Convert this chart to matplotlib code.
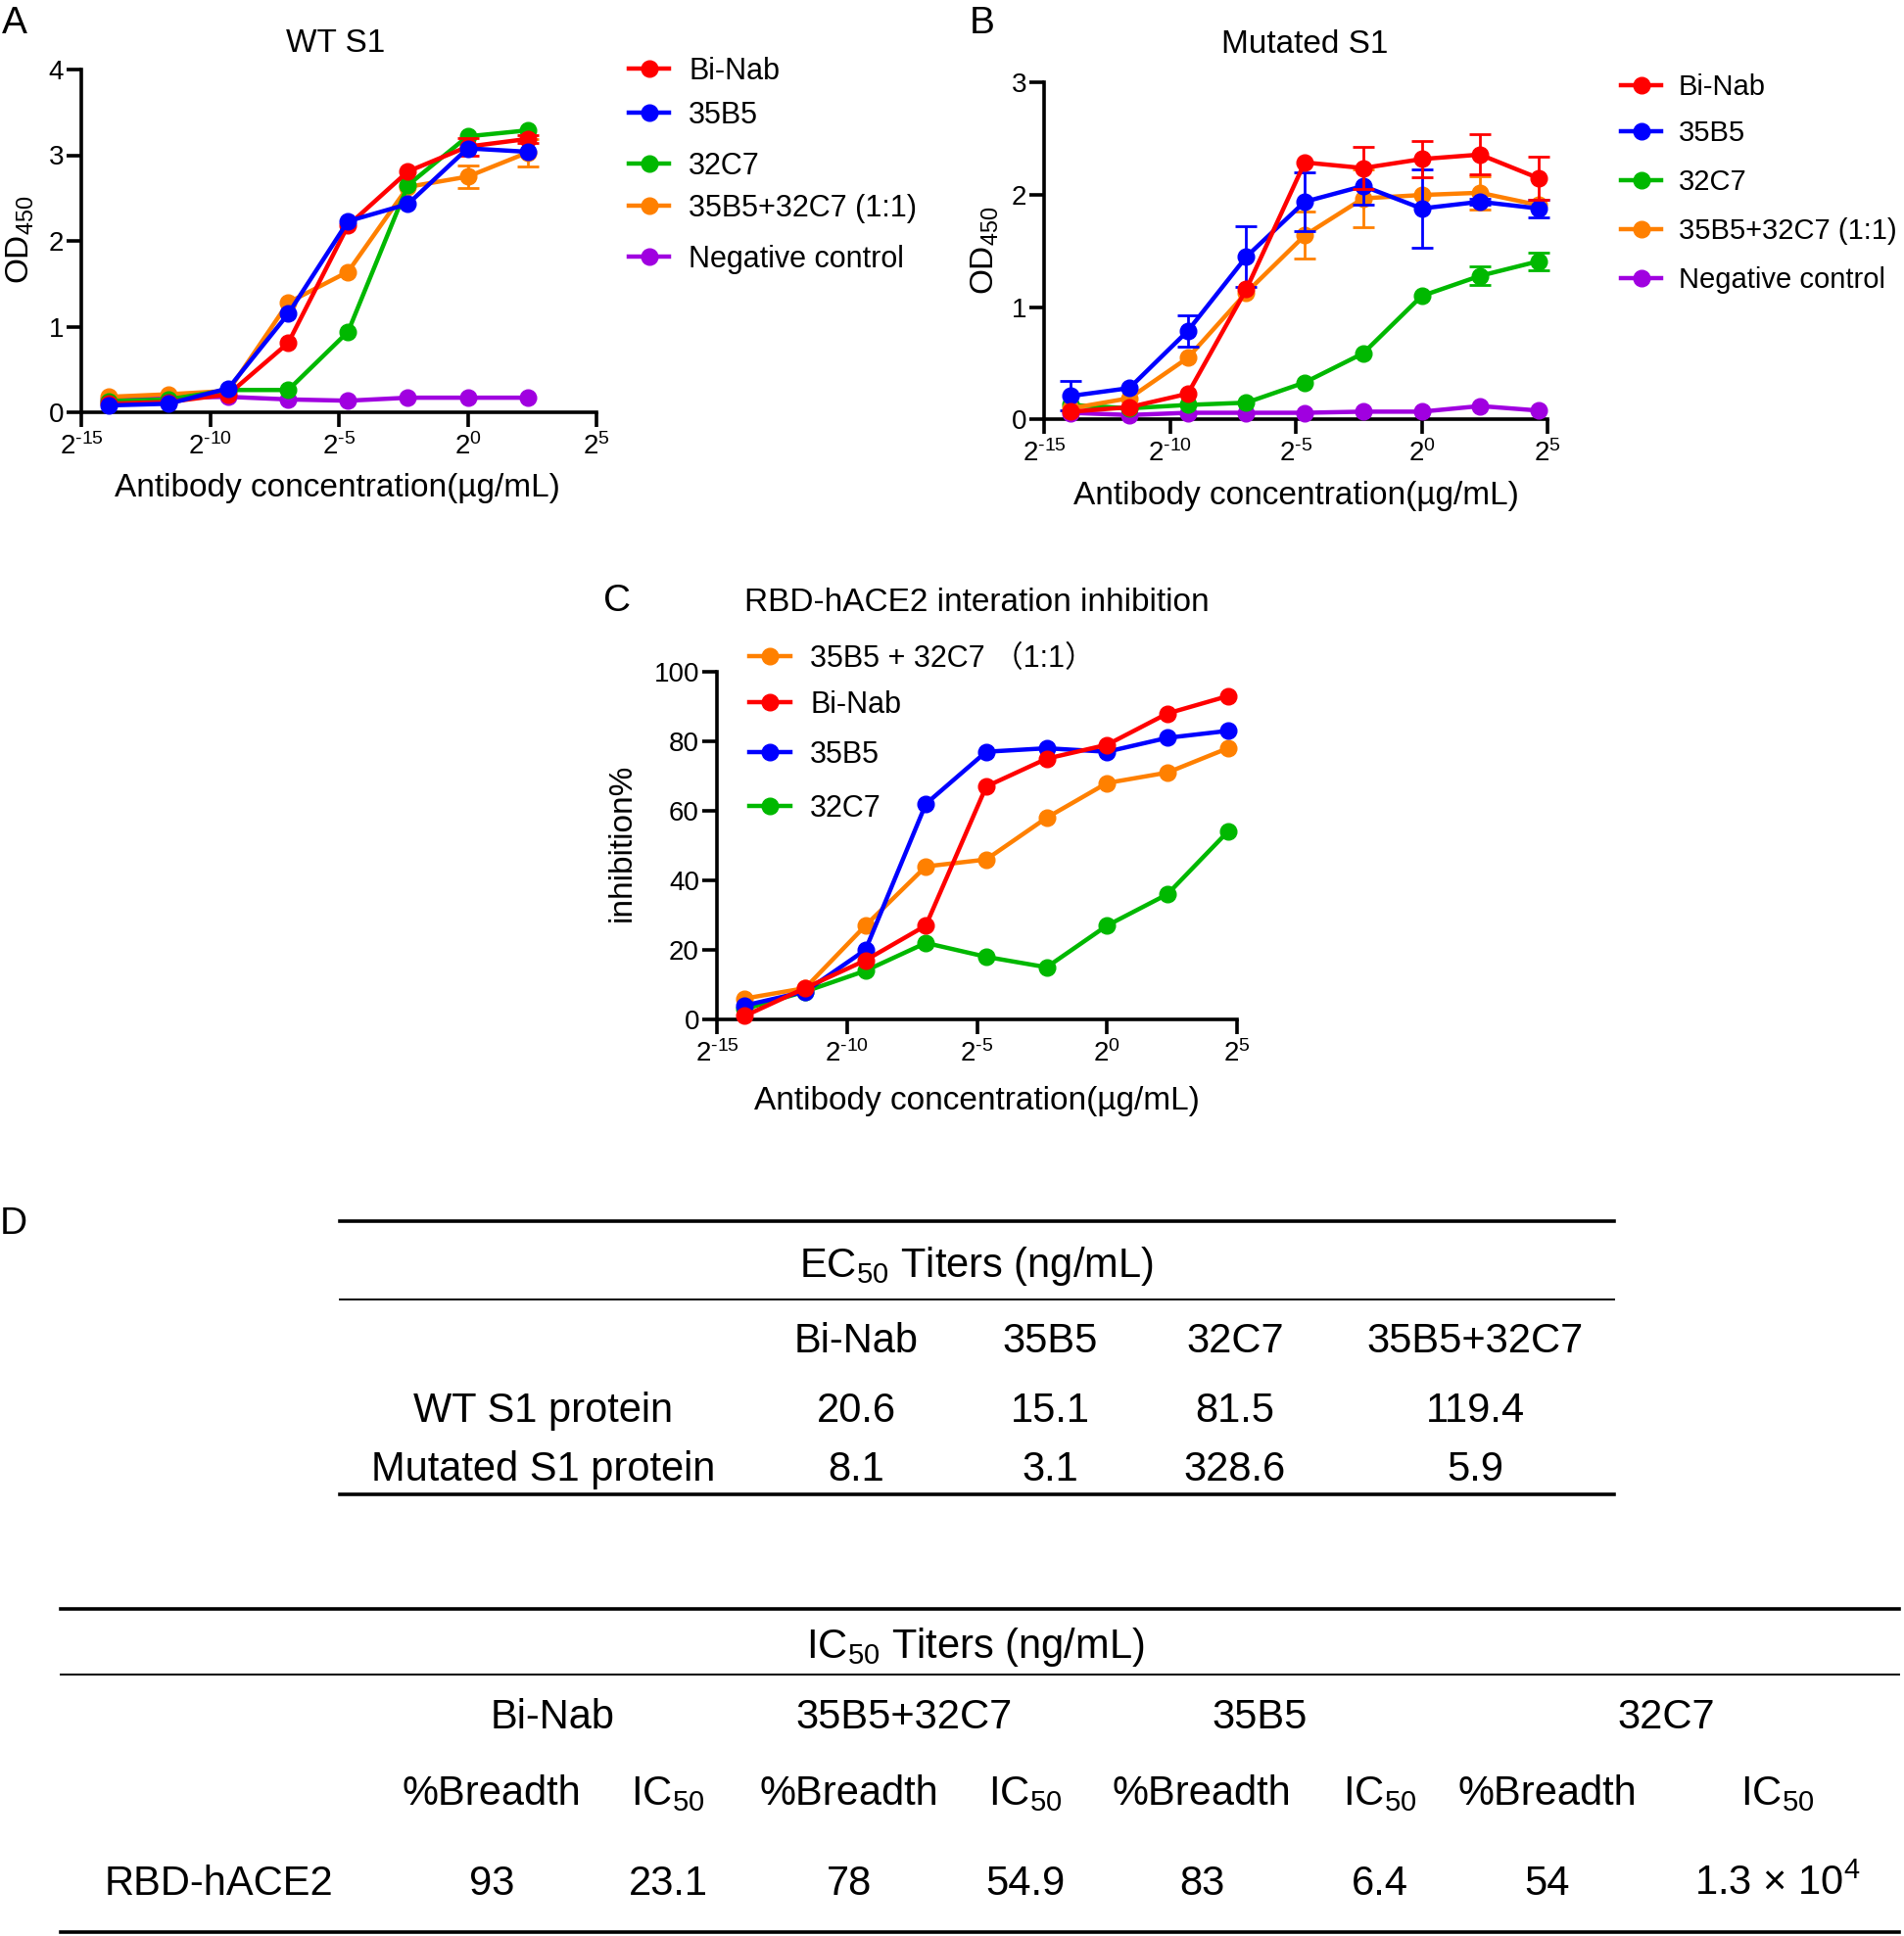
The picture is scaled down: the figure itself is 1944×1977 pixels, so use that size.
import matplotlib
matplotlib.use("Agg")
import matplotlib.pyplot as plt
from matplotlib.lines import Line2D
from matplotlib.ticker import NullLocator

plt.rcParams['font.family'] = ['Liberation Sans', 'Noto Sans CJK SC', 'DejaVu Sans']
plt.rcParams['mathtext.fontset'] = 'custom'
plt.rcParams['mathtext.rm'] = 'Liberation Sans'
plt.rcParams['mathtext.it'] = 'Liberation Sans:italic'
plt.rcParams['mathtext.bf'] = 'Liberation Sans:bold'

# ---- data -----------------------------------------------------------
# antibody concentrations (ug/mL), 5-fold dilutions
conc_a = [0.000064, 0.00032, 0.0016, 0.008, 0.04, 0.2, 1, 5]
conc_bc = [0.000064, 0.00032, 0.0016, 0.008, 0.04, 0.2, 1, 5, 25]

# A: WT S1, OD450
wt_binab = [0.10, 0.12, 0.21, 0.81, 2.18, 2.81, 3.10, 3.19]
wt_35b5 = [0.08, 0.10, 0.28, 1.15, 2.23, 2.43, 3.08, 3.04]
wt_32c7 = [0.13, 0.15, 0.26, 0.26, 0.94, 2.65, 3.22, 3.29]
wt_combo = [0.18, 0.21, 0.25, 1.28, 1.64, 2.63, 2.75, 3.03]
wt_neg = [0.15, 0.17, 0.18, 0.15, 0.135, 0.17, 0.17, 0.17]
wt_binab_err = [0, 0, 0, 0, 0, 0, 0.10, 0.05]
wt_combo_err = [0, 0, 0, 0, 0, 0, 0.13, 0.16]

# B: mutated S1, OD450
mut_binab = [0.07, 0.11, 0.23, 1.16, 2.29, 2.24, 2.32, 2.36, 2.15]
mut_35b5 = [0.21, 0.28, 0.79, 1.45, 1.94, 2.08, 1.88, 1.94, 1.88]
mut_32c7 = [0.13, 0.10, 0.13, 0.15, 0.33, 0.59, 1.10, 1.28, 1.41]
mut_combo = [0.10, 0.19, 0.55, 1.13, 1.64, 1.97, 2.00, 2.02, 1.91]
mut_neg = [0.06, 0.04, 0.06, 0.06, 0.06, 0.07, 0.07, 0.12, 0.08]
mut_binab_err = [0, 0, 0, 0, 0, 0.19, 0.16, 0.18, 0.19]
mut_35b5_err = [0.13, 0, 0.14, 0.27, 0.26, 0.17, 0.35, 0.03, 0.08]
mut_32c7_err = [0, 0, 0, 0, 0, 0, 0, 0.085, 0.08]
mut_combo_err = [0, 0, 0, 0, 0.21, 0.26, 0, 0.15, 0]

# C: RBD-hACE2 inhibition %
inh_combo = [6, 9, 27, 44, 46, 58, 68, 71, 78]
inh_binab = [1, 9, 17, 27, 67, 75, 79, 88, 93]
inh_35b5 = [4, 8, 20, 62, 77, 78, 77, 81, 83]
inh_32c7 = [3, 8, 14, 22, 18, 15, 27, 36, 54]

# D: tables
ec50_cols = ["Bi-Nab", "35B5", "32C7", "35B5+32C7"]
ec50_rows = ["WT S1 protein", "Mutated S1 protein"]
ec50_vals = [["20.6", "15.1", "81.5", "119.4"],
             ["8.1", "3.1", "328.6", "5.9"]]
ic50_groups = ["Bi-Nab", "35B5+32C7", "35B5", "32C7"]
ic50_sub = ["%Breadth", r"IC$_{50}$"]
ic50_row = "RBD-hACE2"
ic50_vals = ["93", "23.1", "78", "54.9", "83", "6.4", "54", r"1.3 $\times$ 10$^{4}$"]

RED, BLUE, GREEN, ORANGE, PURPLE = "#FF0000", "#0000FF", "#00B800", "#FF8000", "#A000E0"

W, H = 1944, 1977
fig = plt.figure(figsize=(W / 100, H / 100), dpi=100)

LAB = 24   # titles and axis labels
LEG = 22   # legend text
TICK = 20  # tick labels
TS = 30    # tables


def fx(x):
    return x / W


def fy(y):
    return 1 - y / H


def text_c(x, y, s, size, ha="center", **kw):
    # y is the middle of the capitals
    base = y + 0.358 * size * 100 / 72
    fig.text(fx(x), fy(base), s, fontsize=size, ha=ha, va="baseline", **kw)


def make_axes(left, top, right, bottom, ymax, ystep):
    ax = fig.add_axes([fx(left), fy(bottom), (right - left) / W, (bottom - top) / H])
    ax.set_xscale("log", base=2)
    ax.set_xlim(2 ** -15, 2 ** 5)
    ax.set_ylim(0, ymax)
    ax.set_xticks([2 ** -15, 2 ** -10, 2 ** -5, 2 ** 0, 2 ** 5])
    ax.set_xticklabels([r"$2^{\text{-15}}$", r"$2^{\text{-10}}$", r"$2^{\text{-5}}$",
                        r"$2^{0}$", r"$2^{5}$"])
    ax.xaxis.set_minor_locator(NullLocator())
    ax.set_yticks(range(0, ymax + 1, ystep))
    for s in ["top", "right"]:
        ax.spines[s].set_visible(False)
    for s in ["left", "bottom"]:
        ax.spines[s].set_linewidth(2.6)
    ax.tick_params(axis="both", length=11, width=2.6, labelsize=TICK)
    ax.tick_params(axis="x", pad=4)
    ax.tick_params(axis="y", pad=2)
    return ax


def series(ax, x, y, color, err=None, z=3):
    ax.plot(x, y, color=color, lw=3.2, marker="o", ms=12, clip_on=False, zorder=z)
    if err is not None:
        xs = [a for a, e in zip(x, err) if e > 0]
        ys = [b for b, e in zip(y, err) if e > 0]
        es = [e for e in err if e > 0]
        ax.errorbar(xs, ys, yerr=es, fmt="none", ecolor=color, elinewidth=2,
                    capsize=8, capthick=2, clip_on=False, zorder=z - 0.5)


def legend(entries, x0, x1, tx, ys, size=LEG):
    for (label, color), y in zip(entries, ys):
        fig.add_artist(Line2D([fx(x0), fx(x1)], [fy(y), fy(y)], transform=fig.transFigure,
                              color=color, lw=3.2))
        fig.add_artist(Line2D([fx((x0 + x1) / 2)], [fy(y)], transform=fig.transFigure,
                              color=color, marker="o", ms=12))
        text_c(tx, y, label, size, ha="left")


# ---- panel A ---------------------------------------------------------
axA = make_axes(83, 71, 609, 421, 4, 1)
series(axA, conc_a, wt_neg, PURPLE, z=3)
series(axA, conc_a, wt_combo, ORANGE, wt_combo_err, z=4)
series(axA, conc_a, wt_32c7, GREEN, z=5)
series(axA, conc_a, wt_binab, RED, wt_binab_err, z=6)
series(axA, conc_a, wt_35b5, BLUE, z=7)
text_c(343, 41, "WT S1", LAB)
text_c(344, 495, "Antibody concentration(µg/mL)", LAB)
fig.text(fx(21), fy(245), r"OD$_{450}$", fontsize=LAB, rotation=90, ha="center", va="center")
text_c(2, 20, "A", 28, ha="left")
legend([("Bi-Nab", RED), ("35B5", BLUE), ("32C7", GREEN),
        ("35B5+32C7 (1:1)", ORANGE), ("Negative control", PURPLE)],
       642, 683, 703, [70, 115, 167, 210, 262])

# ---- panel B ---------------------------------------------------------
axB = make_axes(1066, 84.5, 1580, 428.4, 3, 1)
series(axB, conc_bc, mut_neg, PURPLE, z=3)
series(axB, conc_bc, mut_32c7, GREEN, mut_32c7_err, z=4)
series(axB, conc_bc, mut_combo, ORANGE, mut_combo_err, z=5)
series(axB, conc_bc, mut_35b5, BLUE, mut_35b5_err, z=6)
series(axB, conc_bc, mut_binab, RED, mut_binab_err, z=7)
text_c(1332, 42, "Mutated S1", LAB)
text_c(1323, 503, "Antibody concentration(µg/mL)", LAB)
fig.text(fx(1006), fy(256), r"OD$_{450}$", fontsize=LAB, rotation=90, ha="center", va="center")
text_c(990, 20, "B", 28, ha="left")
legend([("Bi-Nab", RED), ("35B5", BLUE), ("32C7", GREEN),
        ("35B5+32C7 (1:1)", ORANGE), ("Negative control", PURPLE)],
       1655, 1696, 1714, [87, 134, 184, 234, 284], size=21)

# ---- panel C ---------------------------------------------------------
axC = make_axes(732, 686, 1263, 1041, 100, 20)
series(axC, conc_bc, inh_32c7, GREEN, z=3)
series(axC, conc_bc, inh_combo, ORANGE, z=4)
series(axC, conc_bc, inh_35b5, BLUE, z=5)
series(axC, conc_bc, inh_binab, RED, z=6)
text_c(997, 612, "RBD-hACE2 interation inhibition", LAB)
text_c(997, 1121, "Antibody concentration(µg/mL)", LAB)
fig.text(fx(635), fy(860), "inhibition%", fontsize=LAB, rotation=90, ha="center", va="center")
text_c(616, 610, "C", 28, ha="left")
legend([("35B5 + 32C7 （1:1）", ORANGE), ("Bi-Nab", RED), ("35B5", BLUE), ("32C7", GREEN)],
       765, 807, 827, [670, 717, 768, 823])

# ---- panel D: tables -------------------------------------------------
text_c(0, 1246, "D", 28, ha="left")


def hline(x0, x1, y, lw):
    fig.add_artist(Line2D([fx(x0), fx(x1)], [fy(y), fy(y)], transform=fig.transFigure,
                          color="black", lw=lw))


hline(347, 1648, 1247, 2.6)
hline(347, 1648, 1327, 1.4)
hline(347, 1648, 1526, 2.6)
text_c(997, 1289, r"EC$_{50}$ Titers (ng/mL)", TS)
ec50_x = [874, 1072, 1261, 1506]
for x, c in zip(ec50_x, ec50_cols):
    text_c(x, 1366, c, TS)
for y, r, vals in zip([1437, 1497], ec50_rows, ec50_vals):
    text_c(555, y, r, TS)
    for x, v in zip(ec50_x, vals):
        text_c(x, y, v, TS)

hline(62, 1939, 1643, 2.6)
hline(62, 1939, 1710, 1.4)
hline(62, 1939, 1973, 2.6)
text_c(996, 1678, r"IC$_{50}$ Titers (ng/mL)", TS)
for x, g in zip([564, 923, 1286, 1701], ic50_groups):
    text_c(x, 1750, g, TS)
ic50_x = [502, 682, 867, 1047, 1227, 1409, 1580, 1815]
for i, x in enumerate(ic50_x):
    text_c(x, 1828, ic50_sub[i % 2], TS)
text_c(223, 1920, ic50_row, TS)
for x, v in zip(ic50_x, ic50_vals):
    text_c(x, 1920, v, TS)

fig.savefig("out.png", dpi=100)
